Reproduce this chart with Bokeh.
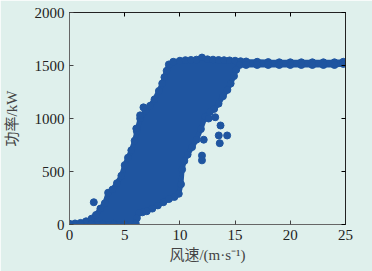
from bokeh.plotting import figure
from bokeh.models import LinearAxis, Range1d, FixedTicker
from bokeh.embed import file_html
from bokeh.resources import INLINE

# ---- data (wind speed m/s, power kW) ----
# left / upper envelope of the dense scatter cloud
upper_x = [0.0, 0.5, 1.0, 1.5, 2.0, 2.4, 2.8, 3.2, 3.5, 3.9, 4.3, 4.7, 5.0, 5.3, 5.6, 5.9, 6.1,
           6.4, 6.9, 7.3, 7.7, 8.1, 8.4, 8.6, 8.8, 9.0, 9.4, 10.0, 10.5, 11.0, 11.5, 12.0,
           12.5, 13.0, 13.5, 14.0, 14.5, 15.0, 15.5, 16.0, 17.0, 18.0, 19.0, 20.0, 21.0,
           22.0, 23.0, 24.0, 24.8]
upper_y = [5, 10, 15, 30, 55, 90, 150, 200, 300, 330, 390, 460, 560, 630, 700, 790, 880,
           1000, 1070, 1120, 1180, 1260, 1330, 1390, 1450, 1510, 1535, 1545, 1550, 1552, 1555, 1575,
           1558, 1555, 1552, 1550, 1548, 1545, 1540, 1538, 1535, 1532, 1530, 1530, 1530,
           1530, 1530, 1530, 1535]
# right / lower envelope of the cloud
lower_x = [24.8, 24.0, 23.0, 22.0, 21.0, 20.0, 19.0, 18.0, 17.0, 16.0, 15.4, 15.1, 14.9,
           14.6, 14.3, 13.9, 13.5, 13.1, 12.7, 12.3, 11.9, 11.5, 11.1, 10.7, 10.4, 10.2,
           10.1, 9.9, 9.5, 9.0, 8.5, 8.0, 7.5, 7.0, 6.6, 6.3, 6.1, 6.0, 5.0, 4.0, 3.0, 2.0,
           1.0, 0.0]
lower_y = [1515, 1505, 1505, 1505, 1505, 1505, 1505, 1505, 1505, 1505, 1505, 1460, 1400,
           1330, 1270, 1210, 1140, 1090, 1060, 1020, 900, 800, 730, 660, 600, 520,
           380, 290, 260, 240, 210, 180, 150, 125, 115, 110, 60, 10, 5, 5, 5, 5,
           5, 5]
# isolated points outside the cloud
out_x = [2.2, 6.4, 6.7, 6.05, 12.0, 12.0, 12.16, 13.2, 13.68, 13.52, 14.28, 13.61, 12.6]
out_y = [210, 1030, 1105, 905, 650, 605, 800, 1012, 934, 840, 840, 767, 1000]

x_ticks = [0, 5, 10, 15, 20, 25]
y_ticks = [0, 500, 1000, 1500, 2000]

BG = "#dff0ec"
BLUE = "#1f55a0"
SERIF = "'Liberation Serif', 'Times New Roman', serif"
CJK = "'Liberation Serif', 'Noto Sans CJK SC', serif"

p = figure(width=372, height=271, output_backend="svg", toolbar_location=None,
           x_range=Range1d(0, 25), y_range=Range1d(0, 2000),
           min_border_left=69, min_border_right=27, min_border_top=12, min_border_bottom=47)
p.background_fill_color = BG
p.border_fill_color = BG
p.outline_line_color = "#222222"
p.grid.visible = False

poly_x = upper_x + lower_x
poly_y = upper_y + lower_y
p.patch(poly_x, poly_y, fill_color=BLUE, line_color=BLUE, line_width=5)
p.scatter(upper_x, upper_y, size=7, color=BLUE)
p.scatter(lower_x, lower_y, size=7, color=BLUE)
p.scatter(out_x, out_y, size=7, color=BLUE)

for ax in (p.xaxis[0], p.yaxis[0]):
    ax.major_tick_in = 4
    ax.major_tick_out = 0
    ax.minor_tick_line_color = None
    ax.major_label_text_font = SERIF
    ax.major_label_text_font_size = "15px"
    ax.major_label_text_color = "#222222"
    ax.axis_label_text_font = CJK
    ax.axis_label_text_font_style = "normal"
    ax.axis_label_text_font_size = "15px"
    ax.axis_label_text_color = "#444444"
    ax.axis_line_color = "#666666"
    ax.major_tick_line_color = "#444444"
    ax.major_label_standoff = 5

p.xaxis[0].ticker = FixedTicker(ticks=x_ticks)
p.yaxis[0].ticker = FixedTicker(ticks=y_ticks)
p.xaxis[0].axis_label = "风速/(m·s⁻¹)"
p.yaxis[0].axis_label = "功率/kW"
p.xaxis[0].axis_label_standoff = 4
p.yaxis[0].axis_label_standoff = 12

top = LinearAxis(ticker=FixedTicker(ticks=x_ticks),
                 major_label_overrides={t: "" for t in x_ticks},
                 major_label_text_color=None, major_label_text_font_size="1px",
                 major_tick_in=4, major_tick_out=0, minor_tick_line_color=None,
                 axis_line_color="#222222")
right = LinearAxis(ticker=FixedTicker(ticks=y_ticks),
                   major_label_overrides={t: "" for t in y_ticks},
                   major_label_text_color=None, major_label_text_font_size="1px",
                   major_tick_in=4, major_tick_out=0, minor_tick_line_color=None,
                   axis_line_color="#222222")
p.add_layout(top, "above")
p.add_layout(right, "right")

open("out.html", "w").write(file_html(p, INLINE))
